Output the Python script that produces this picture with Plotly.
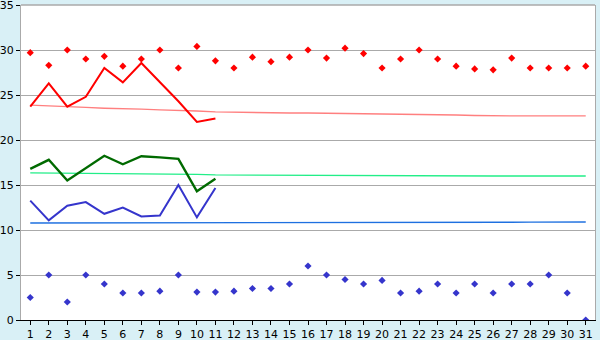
import plotly.graph_objects as go

days = list(range(1, 32))
days_obs = list(range(1, 12))

max_pts = [29.7, 28.3, 30.0, 29.0, 29.3, 28.2, 29.0, 30.0, 28.0, 30.4,
           28.8, 28.0, 29.2, 28.7, 29.2, 30.0, 29.1, 30.2, 29.6, 28.0,
           29.0, 30.0, 29.0, 28.2, 27.9, 27.8, 29.1, 28.0, 28.0, 28.0, 28.2]
min_pts = [2.5, 5.0, 2.0, 5.0, 4.0, 3.0, 3.0, 3.2, 5.0, 3.1,
           3.1, 3.2, 3.5, 3.5, 4.0, 6.0, 5.0, 4.5, 4.0, 4.4,
           3.0, 3.2, 4.0, 3.0, 4.0, 3.0, 4.0, 4.0, 5.0, 3.0, 0.0]

high_line = [23.7, 26.3, 23.7, 24.8, 28.0, 26.4, 28.55, 26.4, 24.3, 22.0, 22.4]
mean_line = [16.8, 17.8, 15.5, 16.9, 18.25, 17.3, 18.2, 18.07, 17.9, 14.3, 15.7]
low_line = [13.26, 11.07, 12.7, 13.1, 11.8, 12.5, 11.5, 11.6, 15.0, 11.4, 14.67]

high_norm = [23.87, 23.76, 23.66, 23.62, 23.53, 23.44, 23.42, 23.35, 23.32, 23.22,
             23.12, 23.08, 23.02, 23.0, 23.0, 23.0, 22.98, 22.92, 22.9, 22.88,
             22.82, 22.8, 22.79, 22.78, 22.72, 22.68, 22.68, 22.67, 22.67, 22.67, 22.67]
mean_norm = [16.34, 16.33, 16.32, 16.30, 16.24, 16.22, 16.22, 16.21, 16.2, 16.18,
             16.12, 16.11, 16.11, 16.1, 16.09, 16.06, 16.02, 16.0, 16.0, 16.0,
             16.0, 16.0, 16.0, 16.0, 16.0, 16.0, 16.0, 16.0, 16.0, 16.0, 16.0]
low_norm = [10.78, 10.78, 10.78, 10.78, 10.78, 10.78, 10.78, 10.78, 10.78, 10.78,
            10.78, 10.78, 10.78, 10.78, 10.78, 10.78, 10.78, 10.78, 10.78, 10.79,
            10.8, 10.8, 10.81, 10.82, 10.83, 10.84, 10.86, 10.88, 10.89, 10.89, 10.89]

y_ticks = [0, 5, 10, 15, 20, 25, 30, 35]

fig = go.Figure()
fig.add_trace(go.Scatter(x=days, y=high_norm, mode="lines",
                         line=dict(color="#FF7F7F", width=1.3)))
fig.add_trace(go.Scatter(x=days, y=mean_norm, mode="lines",
                         line=dict(color="#22EE88", width=1.3)))
fig.add_trace(go.Scatter(x=days, y=low_norm, mode="lines",
                         line=dict(color="#1E70E0", width=1.3)))
fig.add_trace(go.Scatter(x=days_obs, y=high_line, mode="lines",
                         line=dict(color="#FF0000", width=2)))
fig.add_trace(go.Scatter(x=days_obs, y=mean_line, mode="lines",
                         line=dict(color="#006A00", width=2.4)))
fig.add_trace(go.Scatter(x=days_obs, y=low_line, mode="lines",
                         line=dict(color="#3535CC", width=2)))
fig.add_trace(go.Scatter(x=days, y=max_pts, mode="markers",
                         marker=dict(symbol="diamond", size=5.5, color="#FF0000")))
fig.add_trace(go.Scatter(x=days, y=min_pts, mode="markers",
                         marker=dict(symbol="diamond", size=5.5, color="#3535CC")))

fig.update_layout(
    width=600, height=340,
    margin=dict(l=21, r=5, t=5, b=20, autoexpand=False),
    paper_bgcolor="#D9F0F6",
    plot_bgcolor="#FFFFFF",
    showlegend=False,
    font=dict(family="DejaVu Sans", size=11, color="#000000"),
    xaxis=dict(range=[0.5, 31.5], tickmode="array", tickvals=days,
               ticktext=[str(d) for d in days], automargin=False,
               showgrid=False, zeroline=False,
               showline=True, linecolor="#000000", linewidth=1,
               ticks="outside", ticklen=4, tickcolor="#000000"),
    yaxis=dict(range=[0, 35], tickmode="array", tickvals=y_ticks,
               automargin=False, ticklabeloverflow="allow",
               showgrid=True, gridcolor="#AAAAAA", gridwidth=1,
               zeroline=False,
               showline=True, linecolor="#AAAAAA", linewidth=1, mirror=True,
               ticks="outside", ticklen=4, tickcolor="#000000"),
)
fig.add_shape(type="line", xref="paper", yref="paper", x0=0, x1=1, y0=1, y1=1,
              line=dict(color="#AAAAAA", width=1.5))

fig.write_html("out.html")
